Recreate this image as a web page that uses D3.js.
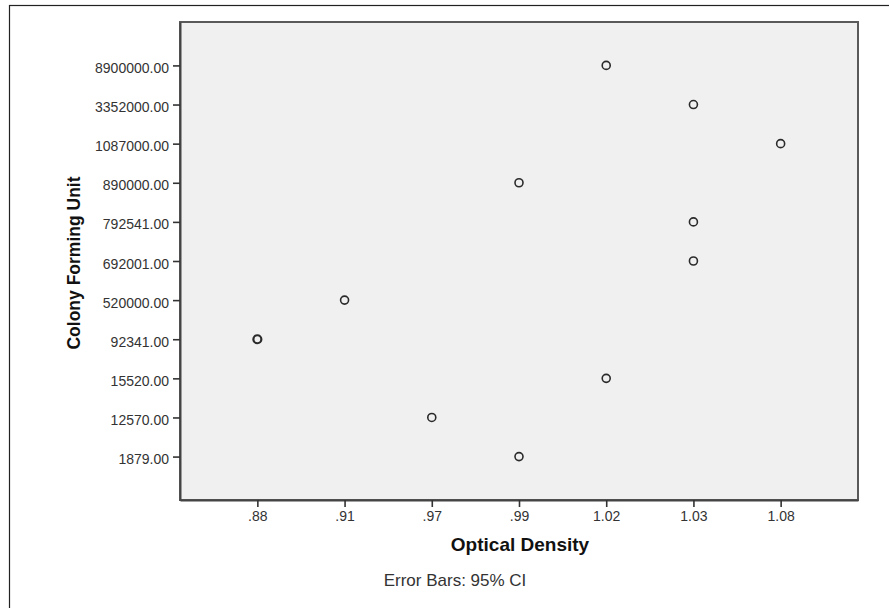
<!DOCTYPE html>
<html>
<head>
<meta charset="utf-8">
<script src="https://cdn.jsdelivr.net/npm/d3@7/dist/d3.min.js"></script>
<style>
  html, body { margin: 0; padding: 0; background: #fff; }
  svg { display: block; font-family: "Liberation Sans", Arial, sans-serif; }
</style>
</head>
<body>
<svg id="chart" width="889" height="608"></svg>
<script>
// Categories (y axis, top to bottom) — Colony Forming Unit
const cfuLabels = ["8900000.00", "3352000.00", "1087000.00", "890000.00", "792541.00",
                   "692001.00", "520000.00", "92341.00", "15520.00", "12570.00", "1879.00"];
// Optical density read for each CFU category (same order)
const odForCfu = ["1.02", "1.03", "1.08", ".99", "1.03", "1.03", ".91", ".88", "1.02", ".97", ".99"];
// x axis tick labels — Optical Density categories
const odLabels = [".88", ".91", ".97", ".99", "1.02", "1.03", "1.08"];

const data = cfuLabels.map((c, i) => ({ cfu: c, od: odForCfu[i] }));

const svg = d3.select("#chart");
const plot = { left: 180, top: 22, right: 858, bottom: 500 };

// outer frame
svg.append("rect")
  .attr("x", 9.5).attr("y", 5.5).attr("width", 920).attr("height", 700)
  .attr("fill", "#fff").attr("stroke", "#222").attr("stroke-width", 1.2);

// plot background
svg.append("rect")
  .attr("x", plot.left).attr("y", plot.top)
  .attr("width", plot.right - plot.left).attr("height", plot.bottom - plot.top)
  .attr("fill", "#f0f0f0").attr("stroke", "#5a5a5a").attr("stroke-width", 2);

const x = d3.scalePoint().domain(odLabels).range([plot.left, plot.right]).padding(0.887);
const y = d3.scalePoint().domain(cfuLabels).range([plot.top, plot.bottom]).padding(1.11);

const xAxis = svg.append("g")
  .attr("transform", `translate(0,${plot.bottom})`)
  .call(d3.axisBottom(x).tickSize(7).tickSizeOuter(0).tickPadding(4));
const yAxis = svg.append("g")
  .attr("transform", `translate(${plot.left},0)`)
  .call(d3.axisLeft(y).tickSize(7).tickSizeOuter(0).tickPadding(4));

[xAxis, yAxis].forEach(g => {
  g.select(".domain").attr("stroke", "#444").attr("stroke-width", 2);
  g.selectAll(".tick line").attr("stroke", "#333").attr("stroke-width", 1.6);
  g.selectAll(".tick text")
    .attr("fill", "#333")
    .style("font-size", "14px")
    .style("font-family", "'Liberation Sans', Arial, sans-serif");
});
yAxis.selectAll(".tick text").attr("dy", "0.5em");

// points
svg.append("g").selectAll("circle")
  .data(data).join("circle")
  .attr("cx", d => x(d.od))
  .attr("cy", d => y(d.cfu))
  .attr("r", 4)
  .attr("fill", "none")
  .attr("stroke", "#2a2a2a")
  .attr("stroke-width", d => d.cfu === "92341.00" ? 2.2 : 1.6);

// axis titles
svg.append("text")
  .attr("x", (plot.left + plot.right) / 2 + 1)
  .attr("y", 551)
  .attr("text-anchor", "middle")
  .style("font-size", "19px").style("font-weight", "bold")
  .attr("fill", "#111")
  .text("Optical Density");

svg.append("text")
  .attr("transform", `translate(80,263) rotate(-90)`)
  .attr("text-anchor", "middle")
  .style("font-size", "17.5px").style("font-weight", "bold")
  .attr("fill", "#111")
  .text("Colony Forming Unit");

svg.append("text")
  .attr("x", 455)
  .attr("y", 586)
  .attr("text-anchor", "middle")
  .style("font-size", "17px")
  .attr("fill", "#333")
  .text("Error Bars: 95% CI");
</script>
</body>
</html>
